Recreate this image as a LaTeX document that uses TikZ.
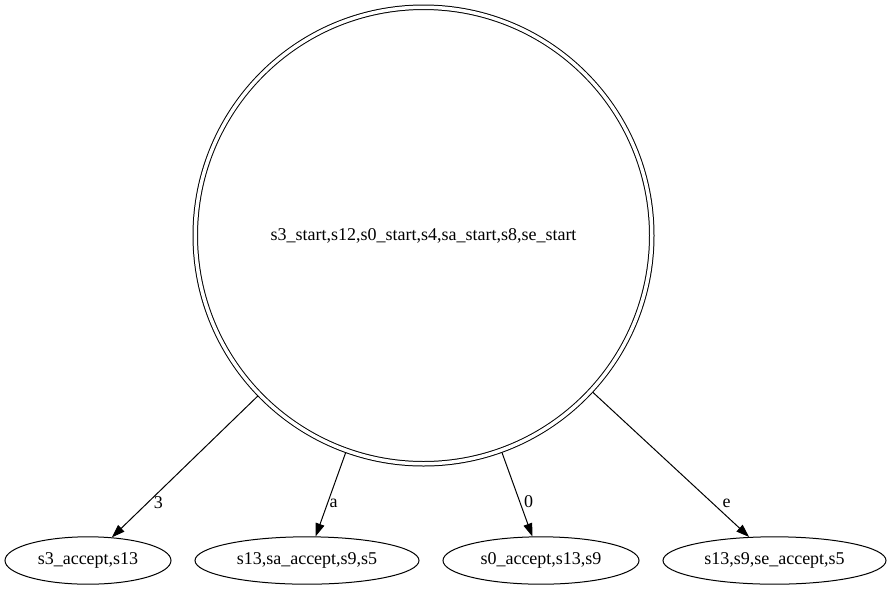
\documentclass[tikz,border=0pt]{standalone}
\usepackage{fontspec}
\setmainfont{Liberation Serif}
\usetikzlibrary{arrows.meta,shapes.geometric}

\begin{document}
\begin{tikzpicture}[->,>={Triangle[length=13pt,width=9pt]},line width=1pt,
                    x=1pt,y=-1pt,font=\fontsize{18}{22}\selectfont,
                    acc/.style={draw, ellipse, inner sep=0pt, minimum height=47.4pt},
                    lbl/.style={anchor=west, inner sep=0pt}]
\useasboundingbox (0,0) rectangle (891,590);
\node[draw, circle, double, double distance=3.5pt, inner sep=0pt,
      minimum size=456.5pt, outer sep=2.5pt] (s) at (423.5,235.5)
      {s3\_start,s12,s0\_start,s4,sa\_start,s8,se\_start};
\node[acc, minimum width=166pt] (1) at (88,560.5) {s3\_accept,s13};
\node[acc, minimum width=224pt] (2) at (307,560.5) {s13,sa\_accept,s9,s5};
\node[acc, minimum width=196pt] (3) at (541,560.5) {s0\_accept,s13,s9};
\node[acc, minimum width=223pt] (4) at (774.5,560.5) {s13,s9,se\_accept,s5};

\draw (s) to node[lbl, pos=.757, xshift=6pt] {3} (1);
\draw (s) to node[lbl, pos=.6, xshift=1.5pt] {a} (2);
\draw (s) to node[lbl, pos=.589, xshift=3.7pt] {0} (3);
\draw (s) to node[lbl, pos=.766, xshift=9.6pt] {e} (4);

\end{tikzpicture}
\end{document}
